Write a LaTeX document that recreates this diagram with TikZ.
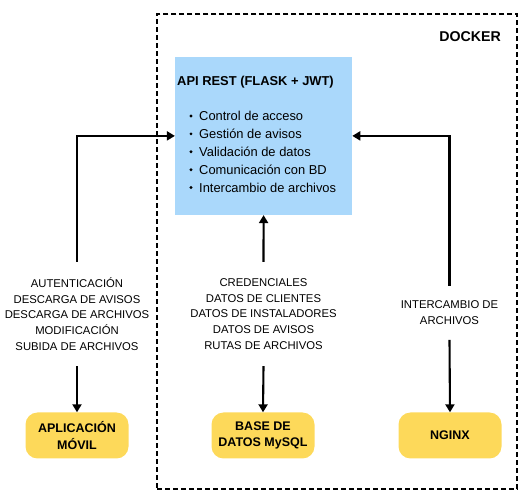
\documentclass[tikz,border=0pt]{standalone}
\usepackage{fontspec}
\setmainfont{Liberation Sans}
\usetikzlibrary{arrows.meta}
\definecolor{apiblue}{RGB}{170,216,251}
\definecolor{boxyellow}{RGB}{253,217,90}
\tikzset{
	conn/.style={line width=2.1pt,-{Triangle[length=8pt,width=9pt]}},
	frame/.style={draw,line width=2pt,dash pattern=on 5pt off 3pt,minimum width=360pt,minimum height=475pt,inner sep=0pt},
	apibox/.style={fill=apiblue,minimum width=177pt,minimum height=158pt,inner sep=0pt},
	unit/.style={fill=boxyellow,rounded corners=12pt,minimum width=103pt,minimum height=46pt,inner sep=0pt,align=center,font=\fontsize{12.5}{16.7}\selectfont\bfseries},
	lbl/.style={inner sep=0pt,align=center,font=\fontsize{11.3}{15.7}\selectfont},
	item/.style={anchor=base west,inner sep=0pt,font=\fontsize{12.9}{15}\selectfont}
}
\begin{document}
\begin{tikzpicture}[x=1pt,y=-1pt]
	\useasboundingbox (0,0) rectangle (528,502);
	\node[frame] (docker) at (337.4,251.6) {};
	\node[anchor=base east,inner sep=0pt,font=\fontsize{14.2}{16}\selectfont\bfseries] (dockerlbl) at (501,41.8) {DOCKER};
	
	\node[apibox] (api) at (263.6,135.9) {};
	\node[item,font=\fontsize{12.9}{15}\selectfont\bfseries] (apititle) at (177,85.6) {API REST (FLASK + JWT)};
	\foreach \t [count=\i] in {Control de acceso,Gestión de avisos,Validación de datos,Comunicación con BD,Intercambio de archivos}
	{
		\fill (191,98.1+\i*17.9) circle (1.6pt);
		\node[item] (api\i) at (199,102.7+\i*17.9) {\t};
	}
	
	\node[unit] (app) at (77,435.5) {APLICACIÓN\\MÓVIL};
	\node[unit] (db) at (263,435.5) {BASE DE\\DATOS MySQL};
	\node[unit] (nginx) at (450,435.5) {NGINX};
	
	\node[lbl,minimum height=104pt] (lapp) at (77,314) {AUTENTICACIÓN\\DESCARGA DE AVISOS\\DESCARGA DE ARCHIVOS\\MODIFICACIÓN\\SUBIDA DE ARCHIVOS};
	\node[lbl,minimum height=104pt] (ldb) at (263.5,314) {CREDENCIALES\\DATOS DE CLIENTES\\DATOS DE INSTALADORES\\DATOS DE AVISOS\\RUTAS DE ARCHIVOS};
	\node[lbl,minimum height=53.7pt] (lnginx) at (449.5,312.9) {INTERCAMBIO DE\\ARCHIVOS};
	
	\draw[conn] (lapp.north) |- (api.west);
	\draw[conn] (ldb.north) -- (api.south);
	\draw[conn] (lnginx.north) |- (api.east);
	\foreach \l/\u in {lapp/app,ldb/db,lnginx/nginx}
	\draw[conn] (\l.south) -- (\u.north);
\end{tikzpicture}
\end{document}
